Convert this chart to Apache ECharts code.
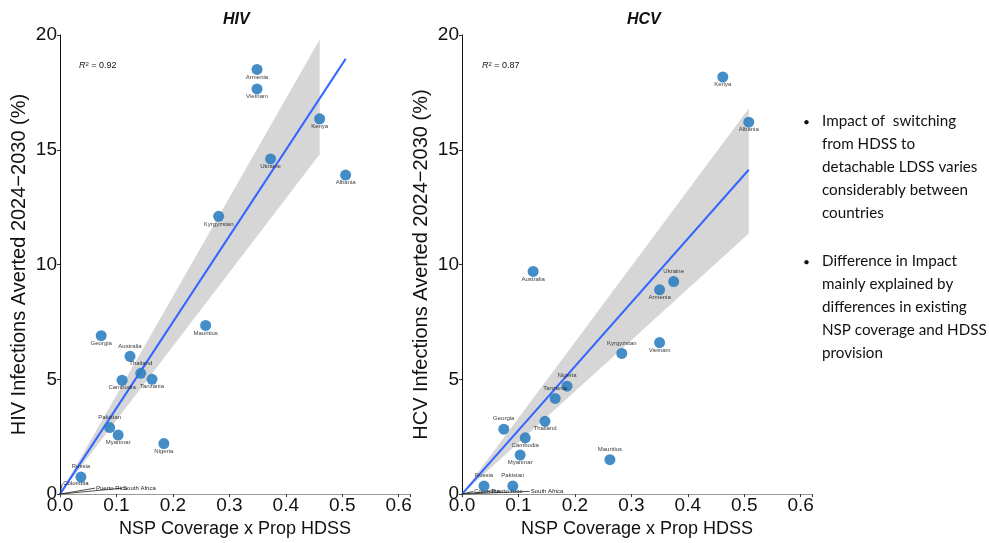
<!DOCTYPE html>
<html>
<head>
<meta charset="utf-8">
<script src="https://cdn.jsdelivr.net/npm/echarts@6/dist/echarts.min.js"></script>
<style>
  html, body { margin: 0; padding: 0; background: #fff; }
  #chart { width: 989px; height: 543px; }
</style>
</head>
<body>
<div id="chart"></div>
<script>
// HIV panel
const hivNames = ['Armenia', 'Vietnam', 'Kenya', 'Ukraine', 'Albania', 'Kyrgyzstan', 'Mauritius', 'Georgia',
  'Australia', 'Thailand', 'Cambodia', 'Tanzania', 'Pakistan', 'Myanmar', 'Nigeria', 'Russia'];
const hivX = [0.349, 0.349, 0.46, 0.373, 0.506, 0.281, 0.258, 0.073, 0.124, 0.143, 0.11, 0.163, 0.088, 0.103, 0.184, 0.037];
const hivY = [18.5, 17.65, 16.35, 14.6, 13.9, 12.1, 7.35, 6.9, 6.0, 5.26, 4.96, 5.0, 2.9, 2.57, 2.2, 0.74];
const hivAbove = ['Australia', 'Thailand', 'Pakistan', 'Russia'];
const hivFitX = [0, 0.506];
const hivFitY = [0, 18.96];
const hivBandX = [0, 0.46];
const hivBandLo = [0, 14.8];
const hivBandHi = [0, 19.8];
const hivR2 = '0.92';

// HCV panel
const hcvNames = ['Kenya', 'Albania', 'Australia', 'Ukraine', 'Armenia', 'Kyrgyzstan', 'Vietnam', 'Nigeria',
  'Tanzania', 'Thailand', 'Georgia', 'Cambodia', 'Myanmar', 'Mauritius', 'Russia', 'Pakistan'];
const hcvX = [0.462, 0.508, 0.126, 0.375, 0.35, 0.283, 0.35, 0.186, 0.165, 0.147, 0.074, 0.112, 0.103, 0.262, 0.039, 0.09];
const hcvY = [18.17, 16.2, 9.7, 9.26, 8.9, 6.13, 6.6, 4.7, 4.17, 3.17, 2.83, 2.45, 1.7, 1.5, 0.35, 0.35];
const hcvAbove = ['Ukraine', 'Kyrgyzstan', 'Nigeria', 'Tanzania', 'Georgia', 'Mauritius', 'Russia', 'Pakistan'];
const hcvFitX = [0, 0.508];
const hcvFitY = [0, 14.13];
const hcvBandX = [0, 0.508];
const hcvBandLo = [0, 11.35];
const hcvBandHi = [0, 16.8];
const hcvR2 = '0.87';

// leader-line labels near the origin: [name, x, y]
const hivLeaders = [['Colombia', 0.004, 0.45], ['Puerto Rico', 0.062, 0.26], ['South Africa', 0.11, 0.26]];
const hcvLeaders = [['Colombia', 0.02, 0.12], ['Puerto Rico', 0.05, 0.12], ['South Africa', 0.12, 0.12]];

const tickLabels = ['0.0', '0.1', '0.2', '0.3', '0.4', '0.5', '0.6'];

const bullets = [
  ['Impact of  switching', 'from HDSS to', 'detachable LDSS varies', 'considerably between', 'countries'],
  ['Difference in Impact', 'mainly explained by', 'differences in existing', 'NSP coverage and HDSS', 'provision']
];

const chart = echarts.init(document.getElementById('chart'));
const FONT = 'Liberation Sans, Arial, sans-serif';

function xAxisCfg(idx) {
  return {
    gridIndex: idx, type: 'value', min: 0, max: 0.62, interval: 0.1,
    name: 'NSP Coverage x Prop HDSS', nameLocation: 'middle', nameGap: 24,
    nameTextStyle: { fontSize: 18, color: '#111', fontFamily: FONT },
    axisLine: { show: true, onZero: false, lineStyle: { color: '#999', width: 1 } },
    axisTick: { show: true, length: 3, lineStyle: { color: '#333' } },
    splitLine: { show: false },
    axisLabel: {
      fontSize: 19, color: '#111', fontFamily: FONT, margin: 2,
      formatter: v => {
        const i = Math.round(v * 10);
        return Math.abs(v * 10 - i) < 1e-6 ? tickLabels[i] : '';
      }
    }
  };
}
function yAxisCfg(idx, name) {
  return {
    gridIndex: idx, type: 'value', min: 0, max: 20, interval: 5,
    name: name, nameLocation: 'middle', nameGap: 31,
    nameTextStyle: { fontSize: 20, color: '#111', fontFamily: FONT },
    axisLine: { show: true, onZero: false, lineStyle: { color: '#111', width: 1 } },
    axisTick: { show: true, length: 3, lineStyle: { color: '#333' } },
    splitLine: { show: false },
    axisLabel: { fontSize: 19, color: '#111', fontFamily: FONT, margin: 3 }
  };
}

function bandSeries(idx, bx, lo, hi) {
  return {
    type: 'custom', xAxisIndex: idx, yAxisIndex: idx, silent: true, z: 1,
    data: bx.map((x, i) => [x, lo[i], hi[i]]),
    renderItem: (params, api) => {
      if (params.dataIndex !== 0) return null;
      const pts = [];
      for (let i = 0; i < bx.length; i++) pts.push(api.coord([bx[i], lo[i]]));
      for (let i = bx.length - 1; i >= 0; i--) pts.push(api.coord([bx[i], hi[i]]));
      return { type: 'polygon', shape: { points: pts }, style: { fill: '#d6d6d6' } };
    }
  };
}
function fitSeries(idx, fx, fy) {
  return {
    type: 'line', xAxisIndex: idx, yAxisIndex: idx, silent: true, z: 2,
    symbol: 'none', lineStyle: { color: '#3366ff', width: 2 },
    data: fx.map((x, i) => [x, fy[i]])
  };
}
function pointSeries(idx, names, xs, ys, above) {
  return {
    type: 'scatter', xAxisIndex: idx, yAxisIndex: idx, z: 3,
    symbolSize: 11,
    itemStyle: { color: '#2a7dbf', opacity: 0.88 },
    data: names.map((n, i) => ({
      name: n, value: [xs[i], ys[i]],
      label: { position: above.includes(n) ? 'top' : 'bottom', distance: above.includes(n) ? 2 : -1 }
    })),
    label: { show: true, formatter: '{b}', fontSize: 6, color: '#222', fontFamily: FONT }
  };
}
function leaderSeries(idx, leaders) {
  return leaders.map(l => ({
    type: 'line', xAxisIndex: idx, yAxisIndex: idx, silent: true, z: 2,
    symbol: 'none', lineStyle: { color: '#222', width: 0.8 },
    data: [[0, 0], [l[1], l[2]]],
    endLabel: { show: true, formatter: l[0], fontSize: 6, color: '#222', fontFamily: FONT, distance: 1 }
  }));
}

const graphic = [
  { type: 'text', left: 223, top: 12, style: { text: 'HIV', font: 'italic bold 16px ' + FONT, fill: '#111' } },
  { type: 'text', left: 627, top: 12, style: { text: 'HCV', font: 'italic bold 16px ' + FONT, fill: '#111' } },
  { type: 'text', left: 79, top: 61, style: { rich: { r: { font: 'italic 9px ' + FONT }, s: { font: '6px ' + FONT, verticalAlign: 'top' }, t: { font: '9px ' + FONT } }, text: '{r|R}{s|2}{t| = ' + hivR2 + '}', fill: '#111' } },
  { type: 'text', left: 482, top: 61, style: { rich: { r: { font: 'italic 9px ' + FONT }, s: { font: '6px ' + FONT, verticalAlign: 'top' }, t: { font: '9px ' + FONT } }, text: '{r|R}{s|2}{t| = ' + hcvR2 + '}', fill: '#111' } }
];
let by = 114;
bullets.forEach((lines, bi) => {
  graphic.push({ type: 'text', left: 803, top: by + 2, style: { text: '•', font: '12px Lato', fill: '#111' } });
  lines.forEach((t, li) => {
    graphic.push({ type: 'text', left: 822, top: by + li * 23, style: { text: t, font: '15.2px Lato', fill: '#111' } });
  });
  by += 23 * lines.length + 25;
});

chart.setOption({
  animation: false,
  backgroundColor: '#fff',
  grid: [
    { left: 60, top: 35, width: 350, bottom: 47 },
    { left: 462, top: 35, width: 350, bottom: 47 }
  ],
  xAxis: [xAxisCfg(0), xAxisCfg(1)],
  yAxis: [yAxisCfg(0, 'HIV Infections Averted 2024\u22122030 (%)'), yAxisCfg(1, 'HCV Infections Averted 2024\u22122030 (%)')],
  graphic: graphic,
  series: [
    bandSeries(0, hivBandX, hivBandLo, hivBandHi),
    fitSeries(0, hivFitX, hivFitY),
    ...leaderSeries(0, hivLeaders),
    pointSeries(0, hivNames, hivX, hivY, hivAbove),
    bandSeries(1, hcvBandX, hcvBandLo, hcvBandHi),
    fitSeries(1, hcvFitX, hcvFitY),
    ...leaderSeries(1, hcvLeaders),
    pointSeries(1, hcvNames, hcvX, hcvY, hcvAbove)
  ]
});
</script>
</body>
</html>
